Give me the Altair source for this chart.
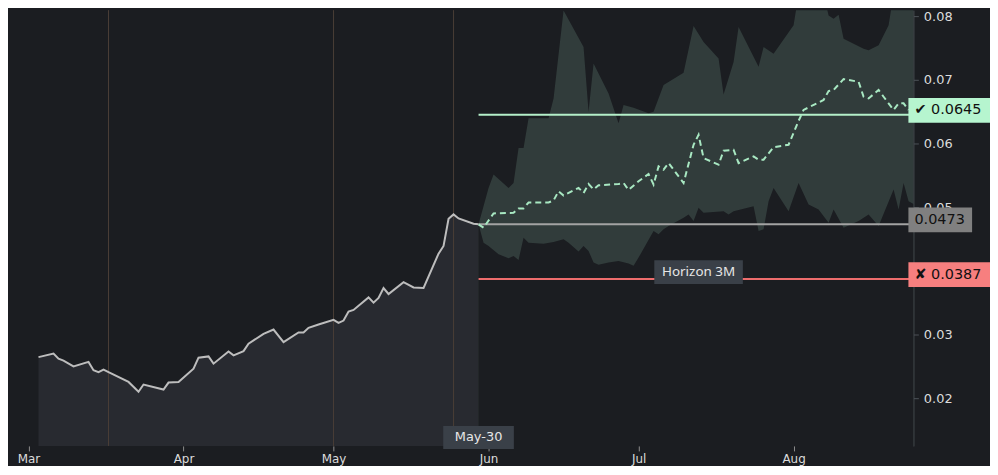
import altair as alt
import pandas as pd

# ---------------- data ----------------
hist_dates = ["2023-03-03", "2023-03-06", "2023-03-07", "2023-03-08", "2023-03-10", "2023-03-13",
              "2023-03-14", "2023-03-15", "2023-03-16", "2023-03-17", "2023-03-21", "2023-03-23",
              "2023-03-24", "2023-03-28", "2023-03-29", "2023-03-31", "2023-04-03", "2023-04-04",
              "2023-04-06", "2023-04-07", "2023-04-10", "2023-04-11", "2023-04-13", "2023-04-14",
              "2023-04-17", "2023-04-19", "2023-04-21", "2023-04-24", "2023-04-25", "2023-04-26",
              "2023-04-28", "2023-05-01", "2023-05-02", "2023-05-03", "2023-05-04", "2023-05-05",
              "2023-05-08", "2023-05-09", "2023-05-10", "2023-05-11", "2023-05-12", "2023-05-15",
              "2023-05-17", "2023-05-19", "2023-05-22", "2023-05-23", "2023-05-24", "2023-05-25",
              "2023-05-26", "2023-05-29", "2023-05-30"]
hist_values = [0.02645, 0.0270, 0.0262, 0.0259, 0.0250, 0.0257,
               0.0244, 0.0241, 0.0245, 0.0241, 0.02255, 0.0210,
               0.02214, 0.02136, 0.02245, 0.02255, 0.02464, 0.02636,
               0.02656, 0.02542, 0.02734, 0.02672, 0.02739, 0.02855,
               0.03011, 0.03078, 0.0288, 0.03031, 0.0303, 0.03105,
               0.03156, 0.0323, 0.03183, 0.03219, 0.0336, 0.03386,
               0.03583, 0.0350, 0.03573, 0.0373, 0.03636, 0.03823,
               0.03739, 0.0373, 0.0427, 0.04391, 0.04817, 0.04886,
               0.04823, 0.04739, 0.0473]

fc_dates = ["2023-05-30", "2023-05-31", "2023-06-02", "2023-06-06", "2023-06-07", "2023-06-08",
            "2023-06-09", "2023-06-13", "2023-06-14", "2023-06-15", "2023-06-16", "2023-06-19",
            "2023-06-20", "2023-06-21", "2023-06-22", "2023-06-23", "2023-06-27", "2023-06-28",
            "2023-06-29", "2023-07-01", "2023-07-03", "2023-07-04", "2023-07-05", "2023-07-06",
            "2023-07-07", "2023-07-10", "2023-07-12", "2023-07-13", "2023-07-14", "2023-07-17",
            "2023-07-18", "2023-07-20", "2023-07-21", "2023-07-24", "2023-07-25", "2023-07-26",
            "2023-07-28", "2023-07-31", "2023-08-02", "2023-08-03", "2023-08-07", "2023-08-08",
            "2023-08-09", "2023-08-11", "2023-08-14", "2023-08-15", "2023-08-16", "2023-08-18",
            "2023-08-19", "2023-08-21", "2023-08-22", "2023-08-23", "2023-08-24"]
fc_median = [0.0473, 0.04677, 0.04902, 0.04911, 0.0498, 0.0498,
             0.05073, 0.05073, 0.05105, 0.0525, 0.05183, 0.05302,
             0.05223, 0.05364, 0.05277, 0.05344, 0.05364, 0.0538,
             0.0527, 0.05406, 0.0552, 0.05355, 0.0564, 0.05589,
             0.05692, 0.0538, 0.0598, 0.06136, 0.0577, 0.05667,
             0.05886, 0.05902, 0.05692, 0.05797, 0.05745, 0.05745,
             0.05942, 0.0598, 0.06355, 0.06527, 0.06683, 0.06823,
             0.06839, 0.07011, 0.06969, 0.06734, 0.06708, 0.06839,
             0.06734, 0.06527, 0.0663, 0.0663, 0.06527]

upper_dates = ["2023-05-30", "2023-06-01", "2023-06-02", "2023-06-05", "2023-06-06", "2023-06-07",
               "2023-06-08", "2023-06-09", "2023-06-13", "2023-06-14", "2023-06-16", "2023-06-20",
               "2023-06-21", "2023-06-22", "2023-06-25", "2023-06-27", "2023-06-28", "2023-06-30",
               "2023-07-03", "2023-07-04", "2023-07-06", "2023-07-10", "2023-07-12", "2023-07-14",
               "2023-07-17", "2023-07-18", "2023-07-20", "2023-07-21", "2023-07-25", "2023-07-26",
               "2023-07-28", "2023-08-01", "2023-08-02", "2023-08-05", "2023-08-07", "2023-08-08",
               "2023-08-09", "2023-08-10", "2023-08-11", "2023-08-15", "2023-08-16", "2023-08-18",
               "2023-08-20", "2023-08-21", "2023-08-25"]
upper_values = [0.0473, 0.05302, 0.05511, 0.05302, 0.0538, 0.05927,
                0.05927, 0.06395, 0.06395, 0.06708, 0.08089, 0.07516,
                0.0650, 0.07255, 0.06786, 0.06317, 0.06605, 0.06562,
                0.06473, 0.0650, 0.06917, 0.07109, 0.07844, 0.07594,
                0.07333, 0.0677, 0.07281, 0.07828, 0.07203, 0.07516,
                0.07411, 0.07855, 0.0835, 0.0870, 0.0835, 0.0801,
                0.07958, 0.0802, 0.07645, 0.07489, 0.07464, 0.07542,
                0.07855, 0.0835, 0.0900]

lower_dates = ["2023-05-30", "2023-05-31", "2023-06-01", "2023-06-03", "2023-06-05", "2023-06-06",
               "2023-06-07", "2023-06-08", "2023-06-09", "2023-06-12", "2023-06-14", "2023-06-16",
               "2023-06-17", "2023-06-19", "2023-06-20", "2023-06-21", "2023-06-22", "2023-06-23",
               "2023-06-25", "2023-06-27", "2023-06-29", "2023-06-30", "2023-07-01", "2023-07-04",
               "2023-07-05", "2023-07-06", "2023-07-07", "2023-07-10", "2023-07-11", "2023-07-12",
               "2023-07-13", "2023-07-14", "2023-07-18", "2023-07-19", "2023-07-20", "2023-07-24",
               "2023-07-25", "2023-07-26", "2023-07-27", "2023-07-28", "2023-07-31", "2023-08-02",
               "2023-08-04", "2023-08-06", "2023-08-08", "2023-08-09", "2023-08-11", "2023-08-14",
               "2023-08-16", "2023-08-18", "2023-08-21", "2023-08-22", "2023-08-23", "2023-08-24",
               "2023-08-25"]
lower_values = [0.0473, 0.04442, 0.04391, 0.04261, 0.04198, 0.04234,
                0.04172, 0.0452, 0.04442, 0.04427, 0.04453, 0.04495,
                0.04442, 0.04302, 0.04391, 0.04312, 0.0413, 0.04094,
                0.0413, 0.04156, 0.04114, 0.04078, 0.04208, 0.04625,
                0.04573, 0.04652, 0.04703, 0.04833, 0.04886, 0.04781,
                0.04989, 0.04911, 0.04937, 0.04886, 0.04937, 0.05016,
                0.04625, 0.04652, 0.05094, 0.05302, 0.04937, 0.0538,
                0.05042, 0.04964, 0.04755, 0.04964, 0.04677, 0.04781,
                0.04886, 0.04703, 0.05277, 0.04964, 0.0538, 0.05094,
                0.0505]

event_dates = ["2023-03-17", "2023-05-01", "2023-05-25"]

level_values = [0.0645, 0.0473, 0.0387]
level_texts = ["✔ 0.0645", "0.0473", "✘ 0.0387"]
level_line_colors = ["#b4efc9", "#a3a3a3", "#ee6d6d"]
level_box_colors = ["#b6f5cf", "#808080", "#f77f7f"]

y_ticks = [0.02, 0.03, 0.04, 0.05, 0.06, 0.07, 0.08]
x_tick_months = [3, 4, 5, 6, 7, 8]

anchor_date = "2023-05-30"
anchor_label = "May-30"
horizon_date = "2023-07-13"
horizon_label = "Horizon 3M"

# ---------------- styling ----------------
BG = "#1b1d21"
W, H = 910, 438
Y_MIN, Y_MAX = 0.0125, 0.0809375

x_scale = alt.Scale(
    type="utc", nice=False,
    domain=[alt.DateTime(year=2023, month=2, date=24, hours=21, minutes=36, utc=True),
            alt.DateTime(year=2023, month=8, date=24, hours=23, utc=True)])
y_scale = alt.Scale(domain=[Y_MIN, Y_MAX], nice=False, zero=False)

x_axis = alt.Axis(
    values=[alt.DateTime(year=2023, month=m, date=1, utc=True) for m in x_tick_months],
    labelExpr="utcFormat(datum.value, '%b')", grid=False, domain=False,
    tickColor="#8c8c8c", tickSize=5, labelColor="#dcdcdc", labelFontSize=12,
    labelFont="DejaVu Sans", labelPadding=3, labelFlush=False, title=None)
y_axis = alt.Axis(
    orient="right", values=y_ticks, format=".2f", grid=False,
    domainColor="#4d5258", tickColor="#4d5258", tickSize=5, labelPadding=5,
    labelColor="#dcdcdc", labelFontSize=13, labelFont="DejaVu Sans",
    labelFlush=False, title=None)


def X(field="date"):
    return alt.X(f"{field}:T", scale=x_scale, axis=x_axis)


def Y(field="value"):
    return alt.Y(f"{field}:Q", scale=y_scale, axis=y_axis)


hist_df = pd.DataFrame({"date": hist_dates, "value": hist_values})
fc_df = pd.DataFrame({"date": fc_dates, "value": fc_median})
up_df = pd.DataFrame({"date": upper_dates, "value": upper_values})
lo_df = pd.DataFrame({"date": lower_dates, "value": lower_values})
ev_df = pd.DataFrame({"date": event_dates})

hist_area = alt.Chart(hist_df).mark_area(color="#282a30", clip=True).encode(
    x=X(), y=Y(), y2=alt.datum(Y_MIN))

rules = alt.Chart(ev_df).mark_rule(color="#4a3d36", strokeWidth=1).encode(x=X())

band = alt.Chart(up_df).mark_area(color="#313c3b", clip=True).encode(
    x=X(), y=Y(), y2=alt.datum(Y_MIN))
mask = alt.Chart(lo_df).mark_area(color=BG, clip=True).encode(
    x=X(), y=Y(), y2=alt.datum(Y_MIN))

hist_line = alt.Chart(hist_df).mark_line(color="#bdbdbd", strokeWidth=2).encode(x=X(), y=Y())

lv_df = pd.DataFrame({"date": [anchor_date] * len(level_values), "value": level_values,
                      "color": level_line_colors})
level_lines = alt.Chart(lv_df).mark_rule(strokeWidth=2).encode(
    x=X(), x2=alt.value(W), y=Y(), color=alt.Color("color:N", scale=None))

median = alt.Chart(fc_df).mark_line(color="#a8e8c2", strokeWidth=2, strokeDash=[6, 4]).encode(
    x=X(), y=Y())

layers = [hist_area, rules, band, mask, hist_line, level_lines, median]

for v, t, c in zip(level_values, level_texts, level_box_colors):
    d = pd.DataFrame({"value": [v], "label": [t]})
    bw = 82 if len(t) > 6 else 64
    layers.append(alt.Chart(d).mark_rect(color=c, yOffset=-17, y2Offset=8).encode(
        x=alt.value(905), x2=alt.value(905 + bw), y=Y(), y2=alt.Y2("value")))
    layers.append(alt.Chart(d).mark_text(
        align="left", baseline="middle", dy=-4.5, font="DejaVu Sans", fontSize=14.5,
        color="#111111").encode(x=alt.value(911), y=Y(), text="label:N"))

an_df = pd.DataFrame({"date": [anchor_date], "label": [anchor_label]})
layers.append(alt.Chart(an_df).mark_rect(color="#3a4048", xOffset=-35.5, x2Offset=35.5).encode(
    x=X(), x2=alt.X2("date"), y=alt.value(418), y2=alt.value(441)))
layers.append(alt.Chart(an_df).mark_text(
    color="#e6e6e6", fontSize=13, font="DejaVu Sans", baseline="middle").encode(
    x=X(), y=alt.value(429.5), text="label:N"))

hz_df = pd.DataFrame({"date": [horizon_date], "value": [level_values[2]], "label": [horizon_label]})
layers.append(alt.Chart(hz_df).mark_rect(
    color="#3a4048", xOffset=-44.5, x2Offset=44.5, yOffset=-19, y2Offset=5).encode(
    x=X(), x2=alt.X2("date"), y=Y(), y2=alt.Y2("value")))
layers.append(alt.Chart(hz_df).mark_text(
    color="#e6e6e6", fontSize=13.5, font="Noto Sans", baseline="middle", dy=-7).encode(
    x=X(), y=Y(), text="label:N"))

chart = alt.layer(*layers).properties(
    width=W, height=H, background=BG, padding=0
).configure_view(stroke=None)

chart.save("out.html", embed_options={"renderer": "svg", "actions": False})
